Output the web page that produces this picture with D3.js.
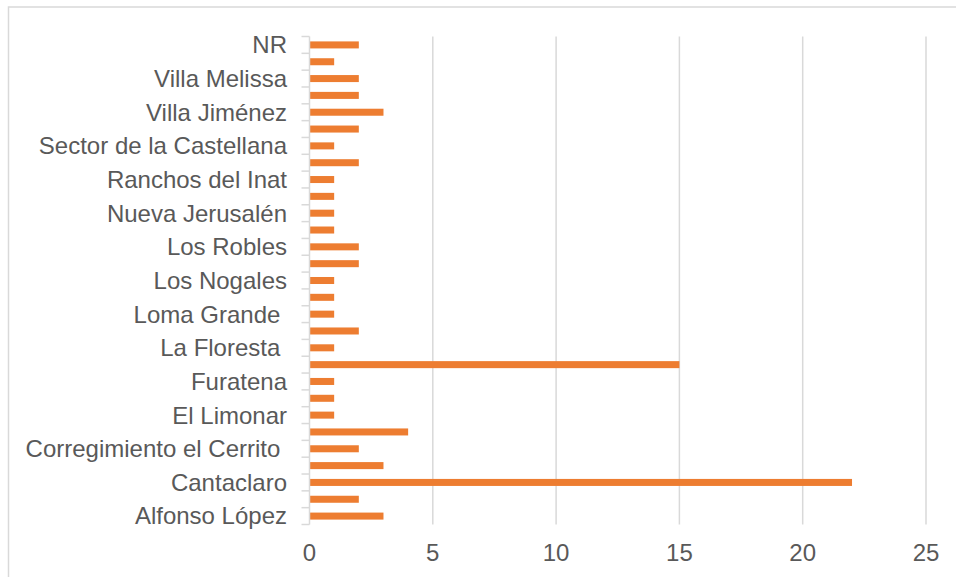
<!DOCTYPE html>
<html>
<head>
<meta charset="utf-8">
<script src="https://cdn.jsdelivr.net/npm/d3@7"></script>
<style>
  html, body { margin: 0; padding: 0; background: #fff; }
  svg { display: block; }
  text { font-family: "Liberation Sans", Arial, sans-serif; fill: #595959; }
</style>
</head>
<body>
<svg id="chart" width="956" height="577"></svg>
<script>
// Categories from bottom to top (only every other one is labelled on the axis)
const categories = [
  "Alfonso López", "Brisas del Llano", "Cantaclaro", "Centro",
  "Corregimiento el Cerrito ", "El Bosque", "El Limonar", "El Porvenir",
  "Furatena", "La Esperanza", "La Floresta ", "La Paz",
  "Loma Grande ", "Los Cerezos", "Los Nogales", "Los Pinos",
  "Los Robles", "Marsella", "Nueva Jerusalén", "Porvenir",
  "Ranchos del Inat", "San Rafael", "Sector de la Castellana", "Serramonte",
  "Villa Jiménez", "Villa Julia", "Villa Melissa", "Villa Rocío", "NR"
];
const values = [
  3, 2, 22, 3,
  2, 4, 1, 1,
  1, 15, 1, 2,
  1, 1, 1, 2,
  2, 1, 1, 1,
  1, 2, 1, 2,
  3, 2, 2, 1, 2
];
const xTicks = [0, 5, 10, 15, 20, 25];

const data = categories.map((c, i) => ({ cat: c, val: values[i] }));

const svg = d3.select("#chart");

// outer border
svg.append("rect")
  .attr("x", 8.5).attr("y", 7)
  .attr("width", 960).attr("height", 600)
  .attr("fill", "none").attr("stroke", "#d9d9d9").attr("stroke-width", 1.5);

const x = d3.scaleLinear().domain([0, 25]).range([309.5, 926]);
const yTop = 36.5, yBot = 524.5;
// bottom-first categories: first category at bottom
const y = d3.scaleBand().domain(categories).range([yBot, yTop])
  .paddingInner(0.583).paddingOuter(0.2915);
const step = y.step();

// gridlines
svg.append("g").selectAll("line")
  .data(xTicks.filter(t => t > 0))
  .join("line")
  .attr("x1", d => x(d)).attr("x2", d => x(d))
  .attr("y1", yTop).attr("y2", yBot)
  .attr("stroke", "#d9d9d9").attr("stroke-width", 1.5);

// bars
svg.append("g").selectAll("rect")
  .data(data)
  .join("rect")
  .attr("x", x(0) + 0.5)
  .attr("y", d => y(d.cat))
  .attr("width", d => x(d.val) - x(0) - 0.5)
  .attr("height", y.bandwidth())
  .attr("fill", "#ed7d31");

// vertical axis line
svg.append("line")
  .attr("x1", x(0)).attr("x2", x(0))
  .attr("y1", yTop).attr("y2", yBot)
  .attr("stroke", "#d9d9d9").attr("stroke-width", 1.5);

// category boundary ticks
const bounds = d3.range(categories.length + 1).map(i => yBot - i * (yBot - yTop) / categories.length);
svg.append("g").selectAll("line")
  .data(bounds)
  .join("line")
  .attr("x1", x(0) - 8).attr("x2", x(0))
  .attr("y1", d => d).attr("y2", d => d)
  .attr("stroke", "#d9d9d9").attr("stroke-width", 1.5);

// category labels (every other one)
svg.append("g").selectAll("text")
  .data(data.filter((d, i) => i % 2 === 0))
  .join("text")
  .attr("x", 287)
  .attr("y", d => y(d.cat) + y.bandwidth() / 2)
  .attr("dy", "0.35em")
  .attr("text-anchor", "end")
  .attr("font-size", 24)
  .style("white-space", "pre")
  .attr("xml:space", "preserve")
  .text(d => d.cat);

// x tick labels
svg.append("g").selectAll("text")
  .data(xTicks)
  .join("text")
  .attr("x", d => x(d))
  .attr("y", 553)
  .attr("dy", "0.35em")
  .attr("text-anchor", "middle")
  .attr("font-size", 24)
  .text(d => d);
</script>
</body>
</html>
